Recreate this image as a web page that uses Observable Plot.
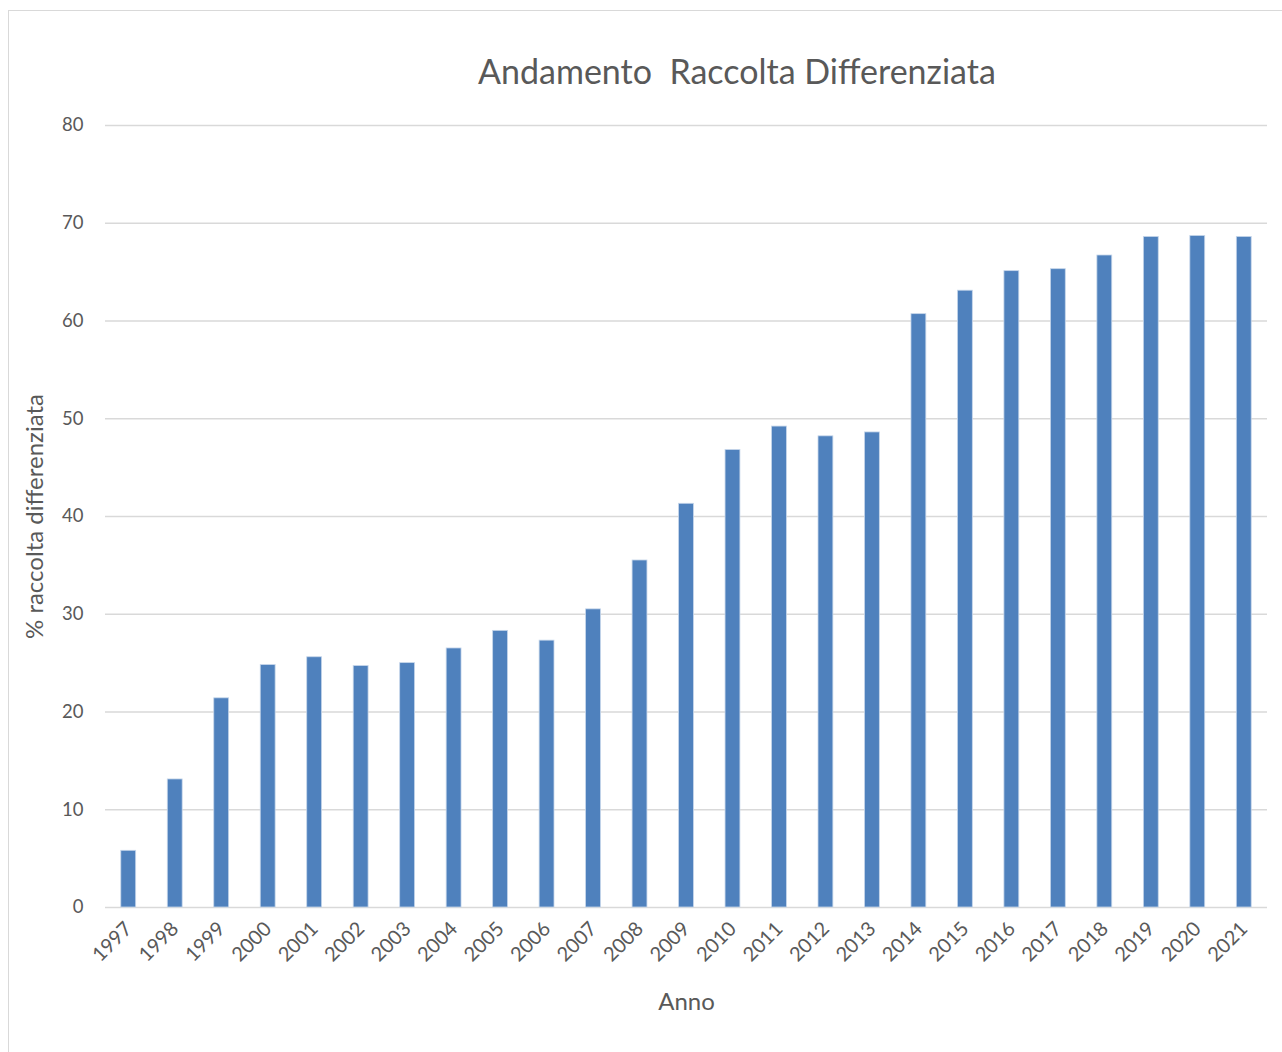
<!DOCTYPE html>
<html>
<head>
<meta charset="utf-8">
<script src="https://cdn.jsdelivr.net/npm/d3@7"></script>
<script src="https://cdn.jsdelivr.net/npm/@observablehq/plot@0.6"></script>
<style>
  html, body { margin: 0; padding: 0; background: #fff; }
  #wrap { position: relative; width: 1282px; height: 1052px; overflow: hidden; font-family: Lato, "Open Sans", sans-serif; }
  #border { position: absolute; left: 8px; top: 10px; width: 1290px; height: 1060px; border: 1.5px solid #d9d9d9; box-sizing: border-box; }
  #title { position: absolute; left: 337px; width: 800px; top: 51px; text-align: center; font-size: 34px; color: #595959; white-space: pre; line-height: 1.2; }
  #chart { position: absolute; left: 0; top: 0; }
</style>
</head>
<body>
<div id="wrap">
  <div id="border"></div>
  <div id="chart"></div>
  <div id="title">Andamento  Raccolta Differenziata</div>
</div>
<script>
const years = ["1997","1998","1999","2000","2001","2002","2003","2004","2005","2006","2007","2008","2009","2010","2011","2012","2013","2014","2015","2016","2017","2018","2019","2020","2021"];
const values = [5.8, 13.1, 21.4, 24.8, 25.6, 24.7, 25.0, 26.5, 28.3, 27.3, 30.5, 35.5, 41.3, 46.8, 49.2, 48.2, 48.6, 60.7, 63.1, 65.1, 65.3, 66.7, 68.6, 68.7, 68.6];
const yTicks = [0, 10, 20, 30, 40, 50, 60, 70, 80];

const data = years.map((y, i) => ({year: y, value: values[i]}));

const chart = Plot.plot({
  width: 1282,
  height: 1052,
  marginLeft: 105,
  marginRight: 15,
  marginTop: 125,
  marginBottom: 145,
  style: {fontFamily: "Lato, 'Open Sans', sans-serif", background: "transparent", color: "#595959"},
  x: {domain: years, paddingInner: 0.68, paddingOuter: 0.34, align: 0.5, round: false},
  y: {domain: [0, 80]},
  marks: [
    Plot.gridY(yTicks, {stroke: "#d9d9d9", strokeOpacity: 1, strokeWidth: 1.5}),
    Plot.barY(data, {x: "year", y: "value", fill: "#4f81bd", stroke: "#c6d6ea", strokeWidth: 0.8}),
    Plot.axisY(yTicks, {tickSize: 0, tickPadding: 22, fontSize: 18.5, fill: "#595959",
      label: "% raccolta differenziata", labelAnchor: "center", labelArrow: "none", labelOffset: 80}),
    Plot.axisX({tickSize: 0, tickPadding: 18, tickRotate: -45, fontSize: 20, fill: "#595959",
      label: "Anno", labelAnchor: "center", labelArrow: "none", labelOffset: 102})
  ]
});
chart.querySelectorAll("g[aria-label='x-axis label'] text, g[aria-label='y-axis label'] text").forEach(t => t.setAttribute("font-size", 24));
document.getElementById("chart").appendChild(chart);
</script>
</body>
</html>
